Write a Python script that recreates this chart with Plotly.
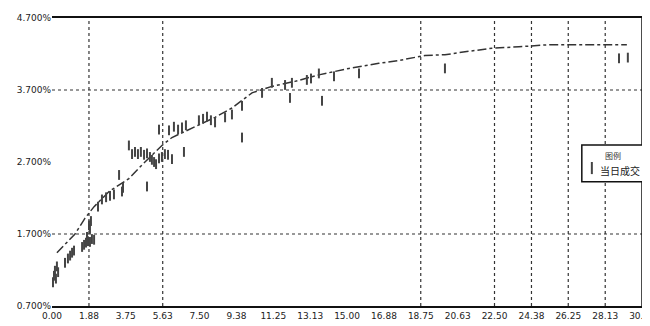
import plotly.graph_objects as go

# fitted curve (tenor in years, yield %)
curve_t = [0.25, 1.17, 1.68, 2.14, 2.90, 3.91, 4.58, 5.59, 6.10, 6.96, 8.29, 9.15,
           10.17, 11.18, 12.35, 13.57, 15.10, 16.62, 17.64, 18.96, 19.98, 21.00,
           22.37, 23.74, 25.32, 29.23]
curve_v = [1.44, 1.70, 1.92, 2.08, 2.29, 2.47, 2.66, 2.93, 3.04, 3.15, 3.32, 3.45,
           3.66, 3.75, 3.82, 3.91, 4.00, 4.07, 4.11, 4.18, 4.19, 4.23,
           4.28, 4.30, 4.33, 4.33]

# trades of the day
trade_t = [0.05, 0.10, 0.15, 0.25, 0.20, 0.31,
           0.66, 0.81, 0.92, 1.02, 1.12,
           1.53, 1.63, 1.73, 1.83, 1.93, 2.03, 2.14, 1.78,
           1.88, 1.93, 1.98,
           2.34, 2.54, 2.75, 2.95, 3.15,
           3.41, 3.56, 3.61, 3.91,
           4.07, 4.22, 4.37, 4.52, 4.68, 4.83, 4.98, 5.08, 5.19, 5.29, 5.44, 5.59, 5.74, 5.90,
           4.83, 5.44, 6.10,
           5.95, 6.20, 6.41, 6.61, 6.81, 6.71,
           7.47, 7.68, 7.88, 8.08, 8.29, 8.80, 9.15, 9.66, 9.66,
           10.68, 11.18, 11.85, 12.10, 12.20, 12.96, 13.17, 13.57, 13.73, 14.34, 15.61,
           19.98, 28.83, 29.28]
trade_v = [1.03, 1.12, 1.19, 1.25, 1.08, 1.17,
           1.30, 1.36, 1.40, 1.44, 1.47,
           1.52, 1.55, 1.58, 1.60, 1.59, 1.63, 1.62, 1.66,
           1.82, 1.77, 1.88,
           2.08, 2.18, 2.21, 2.23, 2.25,
           2.52, 2.29, 2.34, 2.93,
           2.81, 2.84, 2.81, 2.84, 2.80, 2.82, 2.77, 2.73, 2.70, 2.67, 2.75, 2.77, 2.81, 2.80,
           2.36, 3.15, 2.74,
           3.14, 3.19, 3.15, 3.18, 3.21, 2.84,
           3.28, 3.30, 3.33, 3.28, 3.25, 3.32, 3.36, 3.04, 3.48,
           3.66, 3.80, 3.77, 3.59, 3.80, 3.84, 3.86, 3.93, 3.55, 3.89, 3.93,
           4.00, 4.14, 4.15]

x_ticks = [0.00, 1.88, 3.75, 5.63, 7.50, 9.38, 11.25, 13.13, 15.00, 16.88, 18.75,
           20.63, 22.50, 24.38, 26.25, 28.13, 30.00]
y_ticks = [0.7, 1.7, 2.7, 3.7, 4.7]
x_grid = [1.88, 5.63, 18.75, 22.50, 24.38, 26.25, 28.13]
y_grid = [1.7, 3.7]

legend_title = "图例"
legend_label = "当日成交"

font = dict(family="DejaVu Sans", size=9, color="#222222")
cjk = "Noto Sans CJK SC"

fig = go.Figure()
fig.add_trace(go.Scatter(x=curve_t, y=curve_v, mode="lines", showlegend=False,
                         line=dict(color="#333333", width=1.5, dash="dashdot")))
fig.add_trace(go.Scatter(x=trade_t, y=trade_v, mode="markers", name=legend_label,
                         showlegend=False,
                         marker=dict(symbol="line-ns", size=7,
                                     line=dict(color="#444444", width=2))))

shapes = []
for g in x_grid:
    shapes.append(dict(type="line", xref="x", yref="paper", x0=g, x1=g, y0=0, y1=1,
                       line=dict(color="#333333", width=1.2, dash="dot"), layer="below"))
for g in y_grid:
    shapes.append(dict(type="line", xref="paper", yref="y", x0=0, x1=1, y0=g, y1=g,
                       line=dict(color="#333333", width=1.2, dash="dot"), layer="below"))
shapes.append(dict(type="line", xref="paper", yref="paper", x0=1, x1=1, y0=0, y1=1,
                   line=dict(color="#111111", width=1.5)))
# legend box and its marker sample
shapes.append(dict(type="rect", xref="paper", yref="paper", x0=0.898, x1=1.012,
                   y0=0.431, y1=0.559, fillcolor="white",
                   line=dict(color="#111111", width=1.5)))
shapes.append(dict(type="line", xref="paper", yref="paper", x0=0.915, x1=0.915,
                   y0=0.458, y1=0.50, line=dict(color="#444444", width=2)))

annotations = [
    dict(text=legend_title, xref="paper", yref="paper", x=0.951, y=0.524,
         xanchor="center", yanchor="middle",
         showarrow=False, font=dict(family=cjk, size=8, color="#333333")),
    dict(text=legend_label, xref="paper", yref="paper", x=0.962, y=0.472,
         xanchor="center", yanchor="middle",
         showarrow=False, font=dict(family=cjk, size=10, color="#222222")),
]

fig.update_layout(
    width=650, height=326,
    margin=dict(l=44, r=16, t=10, b=28, autoexpand=False),
    paper_bgcolor="white", plot_bgcolor="white",
    font=font,
    shapes=shapes,
    annotations=annotations,
    showlegend=False,
    xaxis=dict(range=[0, 30], tickvals=x_ticks, ticktext=[f"{v:.2f}" for v in x_ticks],
               showgrid=False, zeroline=False, showline=True, mirror=True,
               linecolor="#111111", linewidth=1.5, ticks="", tickfont=font),
    yaxis=dict(range=[0.7, 4.7], tickvals=y_ticks,
               ticktext=[f"{v:.3f}%" for v in y_ticks],
               showgrid=False, zeroline=False, showline=False, ticks="", tickfont=font),
)

fig.write_html("out.html")
